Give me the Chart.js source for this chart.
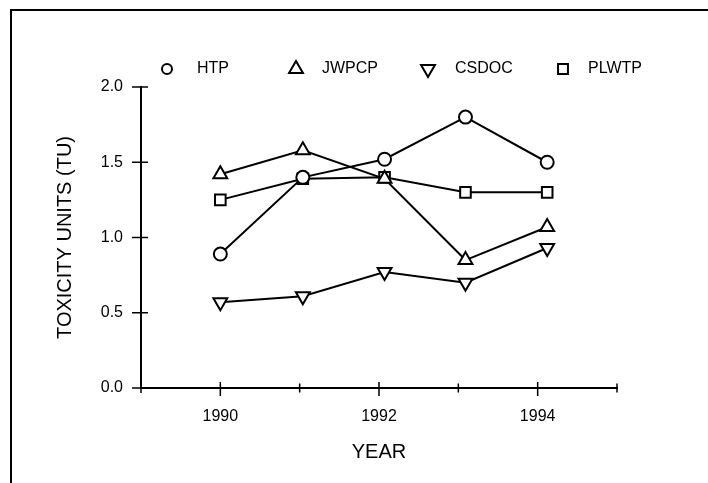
<!DOCTYPE html>
<html>
<head>
<meta charset="utf-8">
<script src="https://cdn.jsdelivr.net/npm/chart.js@4"></script>
<style>
  body { margin: 0; background: #fff; }
  #wrap { position: relative; width: 708px; height: 483px; }
  #frame {
    position: absolute; left: 10px; top: 9px; width: 700px; height: 480px;
    border-top: 2px solid #000; border-left: 2px solid #000; pointer-events: none;
  }
</style>
</head>
<body>
<div id="wrap">
  <canvas id="toxChart" width="708" height="483"></canvas>
  <div id="frame"></div>
</div>
<script>
// data
const years = [1990, 1991, 1992, 1993, 1994];
// where the markers actually sit on the year axis (they drift right of the ticks)
const yearPos = [1990.0, 1991.04, 1992.07, 1993.09, 1994.12];
const htp   = [0.89, 1.40, 1.52, 1.80, 1.50];
const jwpcp = [1.42, 1.58, 1.39, 0.85, 1.07];
const csdoc = [0.57, 0.61, 0.77, 0.70, 0.93];
const plwtp = [1.25, 1.39, 1.40, 1.30, 1.30];

const FONT = "'Liberation Sans', Arial, sans-serif";

function makeSeries(label, values, style, radius, rotation) {
  return {
    label: label,
    data: yearPos.map((x, i) => ({ x: x, y: values[i] })),
    borderColor: '#000',
    borderWidth: 2,
    backgroundColor: '#fff',
    pointStyle: style,
    pointRadius: radius,
    pointRotation: rotation || 0,
    pointBorderWidth: 2,
    pointBorderColor: '#000',
    pointBackgroundColor: '#fff',
    fill: false,
    tension: 0
  };
}

// legend placement: marker x, text x
const legendItems = [
  { label: 'HTP',   style: 'circle',   r: 5, rot: 0,   mx: 167, tx: 197 },
  { label: 'JWPCP', style: 'triangle', r: 8, rot: 0,   mx: 296, tx: 322 },
  { label: 'CSDOC', style: 'triangle', r: 8, rot: 180, mx: 428, tx: 455 },
  { label: 'PLWTP', style: 'rect',     r: 7, rot: 0,   mx: 563, tx: 588 }
];

const tickMarks = {
  id: 'tickMarks',
  afterDatasetsDraw(chart) {
    const ctx = chart.ctx;
    const xs = chart.scales.x, ys = chart.scales.y;
    const ax = chart.chartArea.left, ay = chart.chartArea.bottom;
    ctx.save();
    ctx.strokeStyle = '#000';
    ctx.lineWidth = 1.5;
    ctx.beginPath();
    ys.ticks.forEach(t => {
      const py = ys.getPixelForValue(t.value);
      ctx.moveTo(ax - 9, py);
      ctx.lineTo(ax + 7, py);
    });
    xs.ticks.forEach(t => {
      const px = xs.getPixelForValue(t.value);
      const major = years.includes(t.value) && t.value % 2 === 0;
      if (t.value === xs.min) {
        ctx.moveTo(px, ay);
        ctx.lineTo(px, ay + 5);
      } else if (major) {
        ctx.moveTo(px, ay - 6);
        ctx.lineTo(px, ay + 8);
      } else {
        ctx.moveTo(px, ay - 4.5);
        ctx.lineTo(px, ay + 4.5);
      }
    });
    ctx.stroke();

    // legend row
    ctx.font = '16px ' + FONT;
    ctx.textBaseline = 'middle';
    ctx.textAlign = 'left';
    legendItems.forEach(it => {
      ctx.lineWidth = 2;
      ctx.strokeStyle = '#000';
      ctx.fillStyle = '#fff';
      Chart.helpers.drawPoint(ctx, { pointStyle: it.style, radius: it.r, rotation: it.rot, borderWidth: 2 }, it.mx, 69);
      ctx.fillStyle = '#000';
      ctx.fillText(it.label, it.tx, 69);
    });
    ctx.restore();
  }
};

new Chart(document.getElementById('toxChart').getContext('2d'), {
  type: 'line',
  data: {
    datasets: [
      makeSeries('HTP', htp, 'circle', 6.5),
      makeSeries('JWPCP', jwpcp, 'triangle', 8),
      makeSeries('CSDOC', csdoc, 'triangle', 8, 180),
      makeSeries('PLWTP', plwtp, 'rect', 7.5)
    ]
  },
  options: {
    responsive: false,
    animation: false,
    events: [],
    layout: { padding: { left: 49, top: 87, right: 91, bottom: 15 } },
    plugins: { legend: { display: false }, tooltip: { enabled: false } },
    scales: {
      x: {
        type: 'linear',
        min: 1989,
        max: 1995,
        grid: { display: false, drawTicks: false },
        border: { color: '#000', width: 2 },
        ticks: {
          stepSize: 1,
          padding: 19,
          color: '#000',
          font: { family: FONT, size: 16 },
          maxRotation: 0,
          autoSkip: false,
          callback: v => (years.includes(v) && v % 2 === 0) ? String(v) : ''
        },
        title: { display: true, text: 'YEAR', color: '#000', font: { family: FONT, size: 20 }, padding: { top: 4, bottom: 4 } },
        afterFit: s => { s.height = 80; }
      },
      y: {
        min: 0,
        max: 2,
        grid: { display: false, drawTicks: false },
        border: { color: '#000', width: 2 },
        ticks: {
          stepSize: 0.5,
          padding: 18,
          color: '#000',
          font: { family: FONT, size: 16 },
          callback: v => v.toFixed(1)
        },
        title: { display: true, text: 'TOXICITY UNITS (TU)', color: '#000', font: { family: FONT, size: 20 }, padding: { top: 4, bottom: 4 } },
        afterFit: s => { s.width = 92; }
      }
    }
  },
  plugins: [tickMarks]
});
</script>
</body>
</html>
